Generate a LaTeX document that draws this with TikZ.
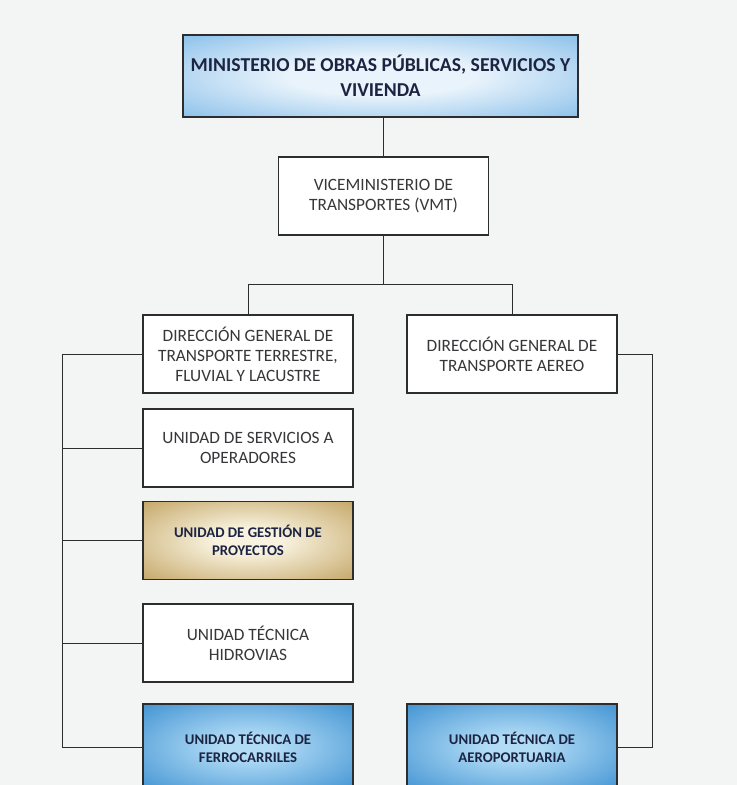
\documentclass[tikz,border=0pt]{standalone}
\usepackage{fontspec}
\setmainfont{Carlito}

\definecolor{paper}{RGB}{243,244,244}
\definecolor{boxline}{RGB}{45,45,48}
\definecolor{inkgray}{RGB}{55,55,58}
\definecolor{inknavy}{RGB}{28,36,66}
\definecolor{skyedge}{RGB}{84,162,224}
\definecolor{skymid}{RGB}{232,243,251}
\definecolor{deepedge}{RGB}{20,118,196}
\definecolor{deepmid}{RGB}{178,220,246}
\definecolor{goldedge}{RGB}{118,88,32}
\definecolor{goldtone}{RGB}{200,172,112}
\definecolor{goldmid}{RGB}{248,242,222}

\pgfdeclareradialshading{skyglow}{\pgfpoint{0bp}{0bp}}{color(0bp)=(skymid); color(12bp)=(skymid); color(50bp)=(skyedge); color(75bp)=(skyedge)}
\pgfdeclareradialshading{deepglow}{\pgfpoint{0bp}{0bp}}{color(0bp)=(deepmid); color(6bp)=(deepmid); color(48bp)=(deepedge); color(75bp)=(deepedge)}
\pgfdeclareradialshading{goldglow}{\pgfpoint{0bp}{0bp}}{color(0bp)=(goldmid); color(8bp)=(goldmid); color(34bp)=(goldtone); color(50bp)=(goldedge); color(75bp)=(goldedge)}

\begin{document}
\begin{tikzpicture}[x=0.025cm, y=-0.025cm,
	box/.style={draw=boxline, line width=0.9pt, fill=white, align=center, inner sep=0pt,
		minimum width=5.25cm, minimum height=1.95cm, text=inkgray, font=\fontsize{12.3}{14.3}\selectfont},
	topbox/.style={box, shading=skyglow, minimum width=9.875cm, minimum height=2.05cm,
		text=inknavy, font=\bfseries\fontsize{14}{17.5}\selectfont},
	goldbox/.style={box, shading=goldglow, text=inknavy, font=\bfseries\fontsize{10.5}{12.8}\selectfont},
	bluebox/.style={box, shading=deepglow, minimum height=2.15cm, text=inknavy, font=\bfseries\fontsize{10.5}{12.8}\selectfont},
	link/.style={draw=boxline, line width=0.6pt}]
\useasboundingbox (0,0) rectangle (737,785);
\fill[paper] (0,0) rectangle (737,785);
\clip (0,0) rectangle (737,785);

\node[topbox] (min) at (380.5,76) {MINISTERIO DE OBRAS PÚBLICAS, SERVICIOS Y\\VIVIENDA};
\node[box] (vmt) at (383.5,196) {VICEMINISTERIO DE\\TRANSPORTES (VMT)};

\node[box] (dgtt) at (248,354) {DIRECCIÓN GENERAL DE\\TRANSPORTE TERRESTRE,\\FLUVIAL Y LACUSTRE};
\node[box] (dgta) at (512,354) {DIRECCIÓN GENERAL DE\\TRANSPORTE AEREO};

\node[box] (uso) at (248,448) {UNIDAD DE SERVICIOS A\\OPERADORES};
\node[goldbox] (ugp) at (248,540.5) {UNIDAD DE GESTIÓN DE\\PROYECTOS};
\node[box] (uth) at (248,643) {UNIDAD TÉCNICA\\HIDROVIAS};
\node[bluebox] (utf) at (248,747) {UNIDAD TÉCNICA DE\\FERROCARRILES};
\node[bluebox] (uta) at (512,747) {UNIDAD TÉCNICA DE\\AEROPORTUARIA};

% connectors
\draw[link] (min.south -| vmt.north) -- (vmt.north);
\draw[link] (vmt.south) -- ++(0,49) coordinate (bus);
\draw[link] (dgtt.north) |- (bus) -| (dgta.north);

\coordinate (lrail) at (62,354);
\draw[link] (dgtt.west) -- (lrail) |- (utf.west);
\foreach \n in {uso,ugp,uth}
	\draw[link] (lrail |- \n.west) -- (\n.west);

\draw[link] (dgta.east) -- ++(35,0) coordinate (rrail) |- (uta.east);
\end{tikzpicture}
\end{document}
